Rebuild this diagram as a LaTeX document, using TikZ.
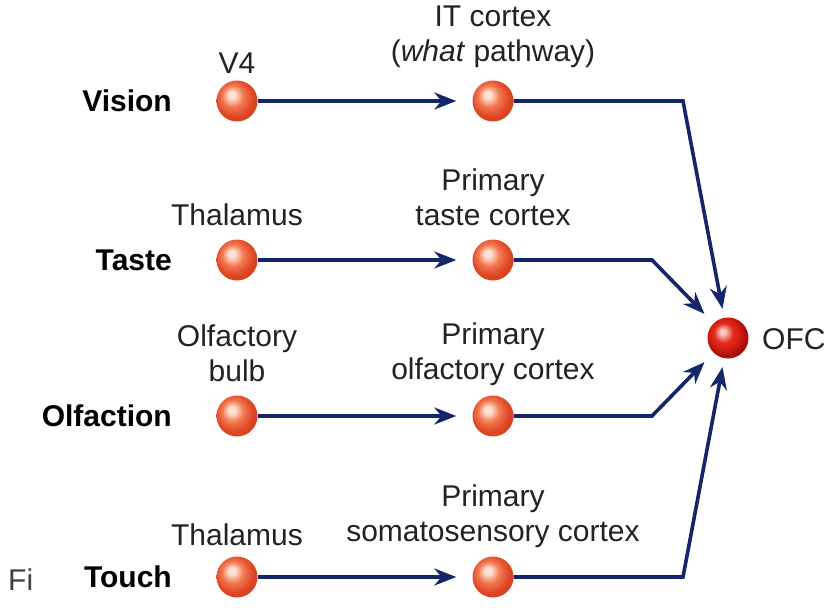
\documentclass[tikz,border=0pt]{standalone}
\usepackage{fontspec}
\setmainfont{Liberation Sans}
\usetikzlibrary{arrows.meta}
\definecolor{navy}{HTML}{15256A}
\definecolor{txt}{HTML}{222222}
\definecolor{hiA}{HTML}{FCE2D6}
\definecolor{midA}{HTML}{F37A50}
\definecolor{outA}{HTML}{E4502E}
\definecolor{edgeA}{HTML}{D9431F}
\definecolor{hiB}{HTML}{F6C8C0}
\definecolor{midB}{HTML}{E52A1C}
\definecolor{outB}{HTML}{C81810}
\definecolor{edgeB}{HTML}{A81008}
\pgfdeclareradialshading{sphA}{\pgfpoint{-7bp}{8bp}}{color(0bp)=(hiA); color(4bp)=(hiA); color(13bp)=(midA); color(21bp)=(outA); color(25bp)=(edgeA); color(50bp)=(edgeA)}
\pgfdeclareradialshading{sphB}{\pgfpoint{-7bp}{8bp}}{color(0bp)=(hiB); color(3bp)=(hiB); color(12bp)=(midB); color(21bp)=(outB); color(25bp)=(edgeB); color(50bp)=(edgeB)}
\begin{document}
\begin{tikzpicture}[x=1pt,y=-1pt,
  sph/.style={circle,minimum size=41pt,inner sep=0pt,shading=sphA},
  ofcsph/.style={circle,minimum size=41pt,inner sep=0pt,shading=sphB},
  lab/.style={font=\fontsize{30}{35}\selectfont,text=txt,align=center,inner sep=0pt},
  sense/.style={font=\fontsize{30}{35}\selectfont\bfseries,text=black,anchor=east,inner sep=0pt},
  link/.style={draw=navy,line width=3.6pt,-{Stealth[length=22pt,width=17pt]}}
]
\useasboundingbox (0,0) rectangle (831,610);
% spheres
\node[sph] (v1) at (237,101) {};
\node[sph] (v2) at (493,101) {};
\node[sph] (t1) at (237,260) {};
\node[sph] (t2) at (493,260) {};
\node[sph] (o1) at (237,416) {};
\node[sph] (o2) at (493,416) {};
\node[sph] (h1) at (237,577) {};
\node[sph] (h2) at (493,577) {};
\node[ofcsph] (ofc) at (728,338) {};
% bend points
\coordinate (vb) at (683,101);
\coordinate (tb) at (652,260);
\coordinate (ob) at (652,416);
\coordinate (hb) at (683,577);
% sense labels
\node[sense] (sv) at (172,101) {Vision};
\node[sense] (st) at (172,260) {Taste};
\node[sense] (so) at (172,416) {Olfaction};
\node[sense] (sh) at (172,577) {Touch};
% area labels
\node[lab] (lv1) at (237,63) {V4};
\node[lab] (lv2) at (493,37) {IT cortex\\(\textit{what} pathway)};
\node[lab] (lt1) at (237,215) {Thalamus};
\node[lab] (lt2) at (493,197) {Primary\\taste cortex};
\node[lab] (lo1) at (237,353) {Olfactory\\bulb};
\node[lab] (lo2) at (493,354) {Primary\\olfactory cortex};
\node[lab] (lh1) at (237,535) {Thalamus};
\node[lab] (lh2) at (493,516) {Primary\\somatosensory cortex};
\node[lab,anchor=west] (lofc) at (762,339) {OFC};
\node[lab,anchor=west,text=black!75] (fig) at (8,580) {Fi};
% connectors
\draw[link,shorten >=16pt] (v1) -- (v2);
\draw[link,shorten >=16pt] (t1) -- (t2);
\draw[link,shorten >=16pt] (o1) -- (o2);
\draw[link,shorten >=16pt] (h1) -- (h2);
\draw[link,shorten >=9pt] (v2) -- (vb) -- (ofc);
\draw[link,shorten >=13pt] (t2) -- (tb) -- (ofc);
\draw[link,shorten >=13pt] (o2) -- (ob) -- (ofc);
\draw[link,shorten >=9pt] (h2) -- (hb) -- (ofc);
\end{tikzpicture}
\end{document}
